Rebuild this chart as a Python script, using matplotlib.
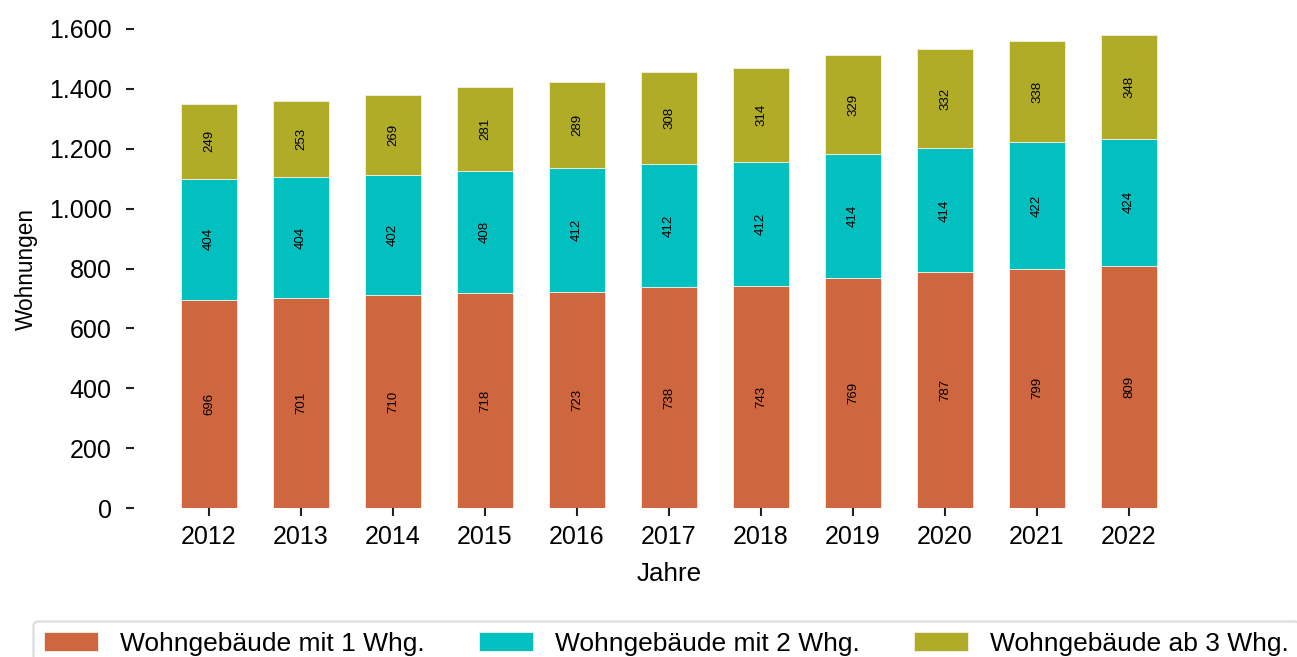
import matplotlib
matplotlib.use("Agg")
import matplotlib.pyplot as plt
import numpy as np

plt.rcParams['font.family'] = ['Liberation Sans', 'DejaVu Sans']

years = ['2012', '2013', '2014', '2015', '2016', '2017', '2018', '2019', '2020', '2021', '2022']
one_flat = [696, 701, 710, 718, 723, 738, 743, 769, 787, 799, 809]
two_flats = [404, 404, 402, 408, 412, 412, 412, 414, 414, 422, 424]
three_plus = [249, 253, 269, 281, 289, 308, 314, 329, 332, 338, 348]
series_names = ['Wohngebäude mit 1 Whg.', 'Wohngebäude mit 2 Whg.', 'Wohngebäude ab 3 Whg.']
colors = ['#CE6640', '#02BFC0', '#B1AC28']
yticks = [0, 200, 400, 600, 800, 1000, 1200, 1400, 1600]
ytick_labels = ['0', '200', '400', '600', '800', '1.000', '1.200', '1.400', '1.600']

fig = plt.figure(figsize=(12.97, 6.57), dpi=100)
ax = fig.add_axes([134/1297, 1-508/657, (1204-134)/1297, (508-29)/657])

x = np.arange(len(years))
bottom = np.zeros(len(years))
for vals, name, col in zip([one_flat, two_flats, three_plus], series_names, colors):
    v = np.array(vals, dtype=float)
    ax.bar(x, v, width=0.6, bottom=bottom, color=col, edgecolor='#f4efe6',
           linewidth=0.6, label=name)
    for xi, b, val in zip(x, bottom, v):
        ax.text(xi, b + val/2, f"{int(val)}", rotation=90, ha='center', va='center',
                fontsize=9.5, color='black')
    bottom += v

ax.set_xlim(-(209-134)/92, 10 + (1204-1129)/92)
ax.set_ylim(0, 1600)
ax.set_xticks(x)
ax.set_xticklabels(years)
ax.set_yticks(yticks)
ax.set_yticklabels(ytick_labels)
for s in ax.spines.values():
    s.set_visible(False)
ax.tick_params(axis='both', which='major', labelsize=18, length=5.5, width=1.5,
               color='#222222')
ax.tick_params(axis='x', pad=7)
ax.tick_params(axis='y', pad=10.5)
ax.set_xlabel('Jahre', fontsize=18.7, labelpad=9)
ax.set_ylabel('Wohnungen', fontsize=16.3, labelpad=8)

leg = fig.legend(loc='upper left', bbox_to_anchor=(33/1297, 1-621/657), ncol=3,
                 fontsize=19, frameon=True, fancybox=True, edgecolor='#d9d9d9',
                 handlelength=2.05, handleheight=0.72, handletextpad=0.83,
                 columnspacing=2.05, borderpad=0.42, borderaxespad=0)
leg.get_frame().set_linewidth(1.8)

fig.savefig('out.png', dpi=100)
